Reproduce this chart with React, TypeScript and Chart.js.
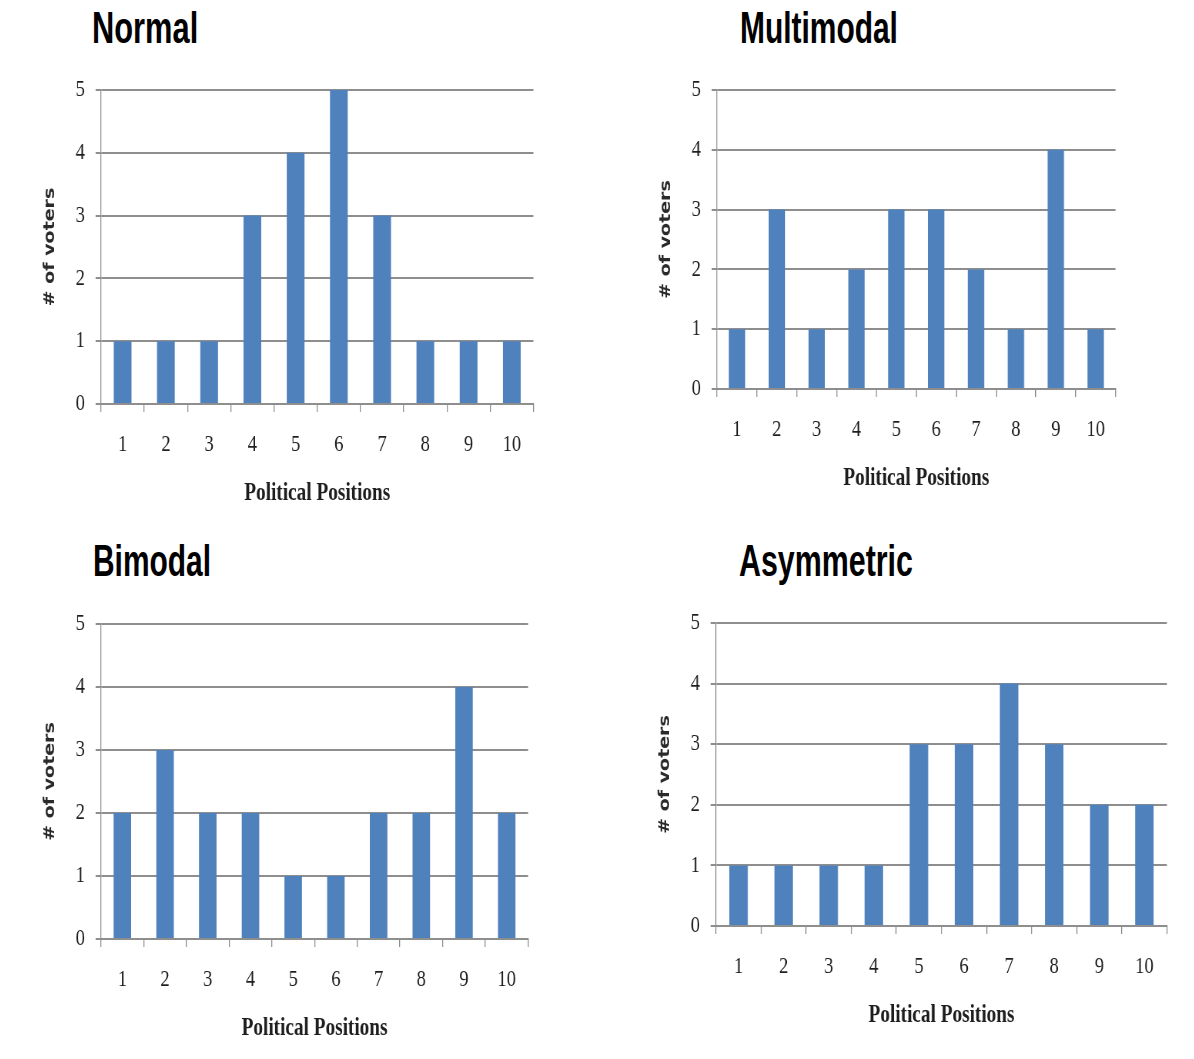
import { useEffect, useRef } from 'react';
import { Chart, registerables } from 'chart.js';

Chart.register(...registerables);

// Political positions along the x axis
const positions = ['1', '2', '3', '4', '5', '6', '7', '8', '9', '10'];

// Number of voters at each position, one array per distribution
const normalVoters = [1, 1, 1, 3, 4, 5, 3, 1, 1, 1];
const multimodalVoters = [1, 3, 1, 2, 3, 3, 2, 1, 4, 1];
const bimodalVoters = [2, 3, 2, 2, 1, 1, 2, 2, 4, 2];
const asymmetricVoters = [1, 1, 1, 1, 3, 3, 4, 3, 2, 2];

// Value axis range
const yMin = 0;
const yMax = 5;
const yStep = 1;

const xAxisTitle = 'Political Positions';
const yAxisTitle = '# of voters';

const BAR_COLOR = '#4F81BD';
const LINE_COLOR = '#8e8e8e';
const TEXT_COLOR = '#1e1e1e';
const SERIF = '"Liberation Serif", "Times New Roman", serif';

// Charts are laid out wide and squeezed horizontally, giving narrow lettering
const SQUEEZE = 0.77;
const AXIS_W = 80; // page px from the canvas edge to the value axis
const PAD_TOP = 32; // room above the plot (larger than the top tick label overhang)
const PAD_RIGHT = 15;
const X_AXIS_H = 115;

type PlotRect = { left: number; top: number; right: number; bottom: number };
type Panel = {
  title: string;
  values: number[];
  plot: PlotRect;
  titleLeft: number;
  titleTop: number;
  titleScale: number;
};

const panels: Panel[] = [
  { title: 'Normal', values: normalVoters, plot: { left: 100.7, top: 89.7, right: 533, bottom: 403.7 }, titleLeft: 92, titleTop: 5, titleScale: 0.685 },
  { title: 'Multimodal', values: multimodalVoters, plot: { left: 716.7, top: 89.7, right: 1115.3, bottom: 388.7 }, titleLeft: 739.5, titleTop: 5, titleScale: 0.665 },
  { title: 'Bimodal', values: bimodalVoters, plot: { left: 100.7, top: 623.5, right: 527.7, bottom: 938.7 }, titleLeft: 93, titleTop: 538.4, titleScale: 0.665 },
  { title: 'Asymmetric', values: asymmetricVoters, plot: { left: 716.3, top: 623, right: 1167.3, bottom: 926 }, titleLeft: 738.5, titleTop: 538.4, titleScale: 0.675 },
];

function BarPanel({ panel }: { panel: Panel }) {
  const canvasRef = useRef<HTMLCanvasElement>(null);
  const { left, top, right, bottom } = panel.plot;
  const pageLeft = left - AXIS_W;
  const pageTop = top - PAD_TOP;
  const pageWidth = right + PAD_RIGHT - pageLeft;
  const width = Math.round(pageWidth / SQUEEZE);
  const height = Math.round(bottom + X_AXIS_H - pageTop);

  useEffect(() => {
    const canvas = canvasRef.current;
    if (!canvas) return;
    const chart = new Chart(canvas, {
      type: 'bar',
      data: {
        labels: positions,
        datasets: [
          {
            data: panel.values,
            backgroundColor: BAR_COLOR,
            borderWidth: 0,
            barPercentage: 0.41,
            categoryPercentage: 1,
          },
        ],
      },
      options: {
        responsive: false,
        animation: false,
        devicePixelRatio: 1,
        layout: { padding: { top: PAD_TOP, right: PAD_RIGHT / SQUEEZE, left: 0, bottom: 0 } },
        plugins: {
          legend: { display: false },
          tooltip: { enabled: false },
          title: { display: false },
        },
        scales: {
          x: {
            offset: true,
            grid: {
              display: true,
              offset: true,
              drawOnChartArea: false,
              drawTicks: true,
              tickLength: 8,
              color: LINE_COLOR,
              lineWidth: 1.3,
            },
            border: { display: true, color: LINE_COLOR, width: 2 },
            ticks: {
              color: TEXT_COLOR,
              font: { family: SERIF, size: 24 },
              padding: 18,
              maxRotation: 0,
              autoSkip: false,
            },
            title: {
              display: true,
              text: xAxisTitle,
              color: TEXT_COLOR,
              font: { family: SERIF, size: 25, weight: 'bold' },
              padding: { top: 0, bottom: 10 },
            },
            afterFit: (scale: any) => {
              scale.height = X_AXIS_H;
            },
          },
          y: {
            min: yMin,
            max: yMax,
            ticks: {
              stepSize: yStep,
              color: TEXT_COLOR,
              font: { family: SERIF, size: 24 },
              padding: 14,
            },
            grid: { color: LINE_COLOR, lineWidth: 2, tickLength: 7, drawTicks: true },
            border: { display: true, color: LINE_COLOR, width: 1.3 },
            title: {
              display: true,
              text: yAxisTitle,
              color: '#2a2a2a',
              font: { family: '"DejaVu Sans", Verdana, sans-serif', size: 19, weight: 'bold' },
              padding: { top: 27, bottom: 0 },
            },
            afterFit: (scale: any) => {
              scale.width = AXIS_W / SQUEEZE;
            },
          },
        },
      } as any,
    });
    return () => chart.destroy();
  }, [panel, width, height]);

  return (
    <>
      <div
        style={{
          position: 'absolute',
          left: panel.titleLeft,
          top: panel.titleTop,
          fontFamily: '"Liberation Sans", Arial, sans-serif',
          fontWeight: 'bold',
          fontSize: 45,
          lineHeight: '45px',
          color: '#000',
          whiteSpace: 'nowrap',
          transform: `scaleX(${panel.titleScale})`,
          transformOrigin: '0 0',
        }}
      >
        {panel.title}
      </div>
      <div
        style={{
          position: 'absolute',
          left: pageLeft,
          top: pageTop,
          width,
          height,
          transform: `scaleX(${SQUEEZE})`,
          transformOrigin: '0 0',
        }}
      >
        <canvas ref={canvasRef} width={width} height={height} style={{ display: 'block' }} />
      </div>
    </>
  );
}

export default function App() {
  return (
    <div
      style={{
        position: 'absolute',
        left: 0,
        top: 0,
        width: 1194,
        height: 1059,
        background: '#fff',
        overflow: 'hidden',
      }}
    >
      {panels.map((p) => (
        <BarPanel key={p.title} panel={p} />
      ))}
    </div>
  );
}
